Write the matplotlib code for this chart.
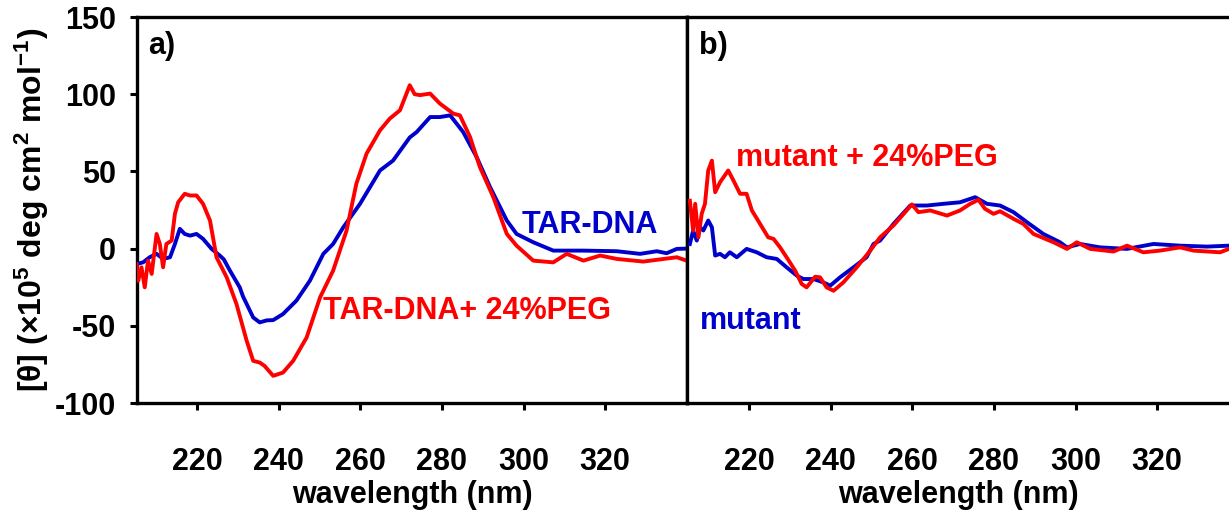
import matplotlib
matplotlib.use("Agg")
import matplotlib.pyplot as plt

plt.rcParams['font.family'] = ['Liberation Sans', 'DejaVu Sans']
plt.rcParams['font.weight'] = 'bold'
plt.rcParams['mathtext.fontset'] = 'custom'
plt.rcParams['mathtext.rm'] = 'Liberation Sans:bold'
plt.rcParams['mathtext.bf'] = 'Liberation Sans:bold'
plt.rcParams['mathtext.it'] = 'Liberation Sans:bold'

# ---------------- data ----------------
# Panel a: TAR-DNA
tar_x = [205, 206.7, 208.3, 210, 211.6, 213.3, 214.5, 215.7, 216.9, 218.2, 219.8, 221.4,
         223.5, 225.5, 226.5, 228, 230.4, 231.2, 233.7, 235.3, 237, 238.6, 241, 244.3,
         247.6, 250.9, 253.3, 255.8, 259.9, 264.8, 268, 272.1, 273.8, 277.1, 279.5, 282,
         285.2, 288.5, 291.8, 295.9, 298.3, 302.4, 307.3, 314.7, 322.9, 328.6, 332.7,
         335.1, 337.6, 340]
tar_y = [-10, -8.9, -5.6, -3.4, -6.7, -5.6, 3, 12.8, 9.5, 8.4, 9.5, 6.3,
         -0.2, -4.5, -7, -14.3, -25.1, -31, -44.6, -47.8, -46.5, -46.3, -42.4, -33.7,
         -20.8, -3.4, 3, 13.8, 29, 50.6, 57, 72, 75.5, 85.2, 85.2, 86.3,
         75.5, 59.3, 39.8, 18.2, 9.5, 4.1, -1.3, -1.3, -1.7, -3.4, -1.7,
         -3, -0.2, 0]

# Panel a: TAR-DNA + 24% PEG
tarpeg_x = [205.1, 205.5, 206.3, 207.1, 207.9, 208.8, 210, 210.8, 211.6, 212.4, 213.7,
            214.5, 215.3, 216.9, 218.2, 219.8, 221.4, 223.1, 224.7, 227.2, 229.6, 232.1,
            233.7, 235.3, 236.5, 238.6, 241, 243.5, 246.8, 250.1, 253.3, 256.6, 259,
            261.5, 264.8, 267.2, 269.7, 272.1, 273.3, 274.6, 277.1, 279.5, 282.8, 284.4,
            286.9, 289.3, 292.6, 295.9, 298.3, 302.4, 307.3, 310.6, 314.7, 318.8, 322.9,
            329.4, 337.6, 340]
tarpeg_y = [-10, -20.8, -12.1, -25.1, -7.8, -16.4, 9.5, 3, -12.1, 3, 5.2,
            22.5, 30, 35.5, 34.4, 34.4, 29, 18.2, -5.6, -18.6, -35.9, -59.7,
            -72.7, -73.8, -76, -82.4, -80.3, -72.7, -57.6, -31.6, -14.3, 11.7, 42,
            61.5, 76.6, 84.2, 89.6, 105.8, 100, 99.4, 100.4, 93.9, 87.4, 86.3,
            72.2, 52.8, 33.3, 9.5, 1.9, -7.8, -8.9, -3.4, -7.8, -4.5, -6.7,
            -8.4, -5.6, -7.8]

# Panel b: mutant
mut_x = [205.5, 206.3, 207.2, 208, 208.8, 210, 210.9, 211.7, 212.9, 214.1, 215.3, 217,
         219.4, 221.9, 224.3, 226.8, 229.2, 231.7, 233.3, 235.8, 238.2, 239.9, 242.3,
         245.6, 248.8, 250.5, 252.1, 255.4, 259.5, 263.6, 267.6, 271.7, 275.4, 278.3,
         281.5, 284.8, 288.1, 292.1, 296.2, 297.9, 301.1, 306, 312.6, 319.1, 325.6,
         332.2, 337.6]
mut_y = [3, 11.7, 5.2, 13.8, 11.7, 18.2, 13.8, -4.5, -3.4, -5.6, -2.4, -5.6,
         -0.2, -2.4, -5.6, -6.7, -12.1, -17.5, -19.7, -19.7, -21.9, -24, -18.6,
         -12.1, -5.6, 3, 5.2, 16, 27.9, 27.9, 29, 30, 33.3, 29,
         27.9, 23.6, 17.1, 9.5, 4.1, 0.8, 3, 0.8, -0.2, 3, 1.9,
         1.3, 1.9]

# Panel b: mutant + 24% PEG
mutpeg_x = [205.5, 206.3, 206.8, 207.6, 208.4, 209.2, 210.0, 210.9, 211.7, 212.9, 214.9,
            216.2, 217.8, 219.4, 220.7, 222.7, 224.7, 226, 227.6, 229.2, 231.3, 232.9,
            234.1, 236.2, 237.4, 239, 240.7, 243.1, 246.4, 249.7, 252.1, 255.4, 259.9,
            261.5, 264.4, 268.5, 271.7, 274.2, 276.2, 277.8, 279.9, 281.5, 284.8, 287.2,
            289.7, 294.6, 297.9, 300.3, 303.6, 309.3, 312.6, 316.6, 320.7, 325.6, 328.9,
            335.4, 337.6]
mutpeg_y = [31, 11.7, 29, 7.3, 22.5, 29, 50.6, 57, 36.5, 43, 50.6,
            44, 35.5, 35.5, 24.7, 16, 7.3, 6.3, 0.8, -5.6, -14.3, -22.9,
            -25.1, -18.2, -18.6, -25.1, -27.3, -21.9, -12.1, -1.3, 7.3, 15, 28.6,
            23.6, 24.7, 21.4, 24.7, 29, 31.6, 25.8, 22.5, 24.2, 19.3, 16,
            9.5, 4.1, -0.2, 4.1, -0.2, -1.9, 1.9, -2.4, -1.3, 0.8, -1.3,
            -2.4, -0.2]

x_ticks = [220, 240, 260, 280, 300, 320]
y_ticks = [-100, -50, 0, 50, 100, 150]

BLUE = '#0000CC'
RED = '#FF0000'
FS = 22

fig = plt.figure(figsize=(12.29, 5.11), dpi=100)
W, H = 1229, 511
def box(l, t, r, b):
    return [l / W, 1 - b / H, (r - l) / W, (b - t) / H]

ax1 = fig.add_axes(box(137, 17, 687, 403))
ax2 = fig.add_axes(box(687, 17, 1229, 403))

ax1.plot(tar_x, tar_y, color=BLUE, lw=2.8, zorder=3)
ax1.plot(tarpeg_x, tarpeg_y, color=RED, lw=2.8, zorder=4)
ax2.plot(mut_x, mut_y, color=BLUE, lw=2.8, zorder=3)
ax2.plot(mutpeg_x, mutpeg_y, color=RED, lw=2.8, zorder=4)

ax1.set_xlim(205.2, 340.1)
ax2.set_xlim(204.8, 337.6)
for ax in (ax1, ax2):
    ax.set_ylim(-100, 150)
    ax.set_xticks(x_ticks)
    ax.set_xticklabels([str(t) for t in x_ticks], fontsize=FS, fontweight='bold')
    ax.tick_params(axis='x', direction='out', length=5, width=2.2, pad=27)
    ax.set_xlabel('wavelength (nm)', fontsize=FS, fontweight='bold', labelpad=2)
    for s in ax.spines.values():
        s.set_linewidth(2.4)
        s.set_color('black')

ax1.set_yticks(y_ticks)
ax1.set_yticklabels([str(t) for t in y_ticks], fontsize=FS, fontweight='bold')
ax1.tick_params(axis='y', direction='out', length=5, width=2.2, pad=10)
ax1.set_ylabel(r'$[\theta]$ (×10$^{5}$ deg cm$^{2}$ mol$^{-1}$)', fontsize=23,
               fontweight='bold', labelpad=3)
ax2.set_yticks([])
ax2.spines['right'].set_visible(False)

ax1.text(0.02, 0.925, 'a)', transform=ax1.transAxes, fontsize=22, fontweight='bold',
         ha='left', va='center')
ax2.text(0.022, 0.925, 'b)', transform=ax2.transAxes, fontsize=22, fontweight='bold',
         ha='left', va='center')

ax1.text(0.70, 0.462, 'TAR-DNA', transform=ax1.transAxes, color=BLUE, fontsize=FS,
         fontweight='bold', ha='left', va='center')
ax1.text(0.338, 0.238, 'TAR-DNA+ 24%PEG', transform=ax1.transAxes, color=RED, fontsize=FS,
         fontweight='bold', ha='left', va='center')
ax2.text(0.09, 0.635, 'mutant + 24%PEG', transform=ax2.transAxes, color=RED, fontsize=FS,
         fontweight='bold', ha='left', va='center')
ax2.text(0.024, 0.213, 'mutant', transform=ax2.transAxes, color=BLUE, fontsize=FS,
         fontweight='bold', ha='left', va='center')

fig.savefig('out.png', dpi=100)
